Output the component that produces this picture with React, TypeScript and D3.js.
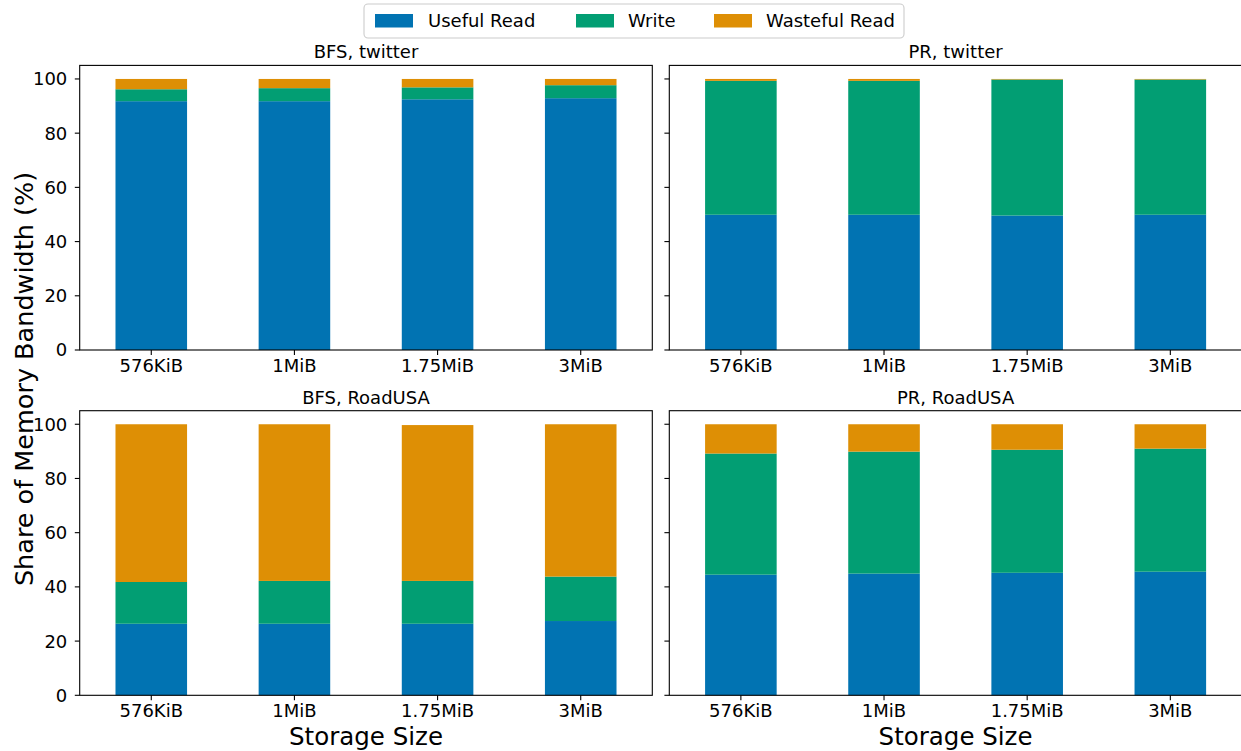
import React from "react";
import * as d3 from "d3";

// Storage configurations on the x axis
const sizes = ["576KiB", "1MiB", "1.75MiB", "3MiB"];
const seriesKeys = ["Useful Read", "Write", "Wasteful Read"];
const seriesColors = ["#0173b2", "#029e73", "#de8f05"];
const yTicks = [0, 20, 40, 60, 80, 100];

// Share of memory bandwidth (%) per workload, stacked bottom to top
const bfsTwitterUseful = [91.8, 91.8, 92.5, 92.9];
const bfsTwitterWrite = [4.4, 4.8, 4.4, 4.8];
const bfsTwitterWaste = [3.8, 3.4, 3.1, 2.3];

const prTwitterUseful = [49.9, 49.9, 49.6, 49.9];
const prTwitterWrite = [49.4, 49.4, 50.2, 49.9];
const prTwitterWaste = [0.7, 0.7, 0.2, 0.2];

const bfsRoadUseful = [26.4, 26.4, 26.4, 27.4];
const bfsRoadWrite = [15.4, 15.8, 15.8, 16.4];
const bfsRoadWaste = [58.2, 57.8, 57.5, 56.2];

const prRoadUseful = [44.5, 44.9, 45.2, 45.6];
const prRoadWrite = [44.7, 45.0, 45.4, 45.4];
const prRoadWaste = [10.8, 10.1, 9.4, 9.0];

const panels = [
  { title: "BFS, twitter", useful: bfsTwitterUseful, write: bfsTwitterWrite, waste: bfsTwitterWaste, col: 0, row: 0 },
  { title: "PR, twitter", useful: prTwitterUseful, write: prTwitterWrite, waste: prTwitterWaste, col: 1, row: 0 },
  { title: "BFS, RoadUSA", useful: bfsRoadUseful, write: bfsRoadWrite, waste: bfsRoadWaste, col: 0, row: 1 },
  { title: "PR, RoadUSA", useful: prRoadUseful, write: prRoadWrite, waste: prRoadWaste, col: 1, row: 1 },
];

const W = 1241;
const H = 751;
const FONT = "DejaVu Sans, sans-serif";
const colX = [79.7, 669.3];
const axW = 572.6;
const rowBottom = [350, 695.3];
const axH = 284.6;
const tickLen = 4.9;
const tickFont = 18;
const labelFont = 24.5;
const yLabelFont = 25.5;

function Panel({ p }: { p: (typeof panels)[number] }) {
  const x0 = colX[p.col];
  const y0 = rowBottom[p.row];
  const x = d3.scaleBand<string>().domain(sizes).range([x0, x0 + axW]).paddingInner(0.5).paddingOuter(0.25);
  const y = d3.scaleLinear().domain([0, 105]).range([y0, y0 - axH]);
  const rows = sizes.map((s, i) => ({
    size: s,
    "Useful Read": p.useful[i],
    Write: p.write[i],
    "Wasteful Read": p.waste[i],
  }));
  const stacked = d3.stack<any>().keys(seriesKeys)(rows);
  const showYLabels = p.col === 0;
  return (
    <g>
      {stacked.map((layer, li) => (
        <g key={layer.key} fill={seriesColors[li]}>
          {layer.map((d, i) => (
            <rect
              key={i}
              x={x(sizes[i])}
              width={x.bandwidth()}
              y={y(d[1])}
              height={y(d[0]) - y(d[1])}
            />
          ))}
        </g>
      ))}
      <rect x={x0} y={y0 - axH} width={axW} height={axH} fill="none" stroke="#000" strokeWidth={1.1} />
      {sizes.map((s) => {
        const cx = (x(s) as number) + x.bandwidth() / 2;
        return (
          <g key={s}>
            <line x1={cx} x2={cx} y1={y0} y2={y0 + tickLen} stroke="#000" strokeWidth={1.1} />
            <text x={cx} y={y0 + 22} textAnchor="middle" fontSize={tickFont} fontFamily={FONT} fill="#000">
              {s}
            </text>
          </g>
        );
      })}
      {yTicks.map((t) => (
        <g key={t}>
          <line x1={x0 - tickLen} x2={x0} y1={y(t)} y2={y(t)} stroke="#000" strokeWidth={1.1} />
          {showYLabels && (
            <text x={x0 - tickLen - 7.5} y={y(t)} dy="0.36em" textAnchor="end" fontSize={tickFont} fontFamily={FONT} fill="#000">
              {t}
            </text>
          )}
        </g>
      ))}
      <text x={x0 + axW / 2} y={y0 - axH - 7} textAnchor="middle" fontSize={tickFont} fontFamily={FONT} fill="#000">
        {p.title}
      </text>
      {p.row === 1 && (
        <text x={x0 + axW / 2} y={745} textAnchor="middle" fontSize={labelFont} fontFamily={FONT} fill="#000">
          Storage Size
        </text>
      )}
    </g>
  );
}

function Legend() {
  const entries = [
    { key: seriesKeys[0], patchX: 375, textX: 428 },
    { key: seriesKeys[1], patchX: 576, textX: 628 },
    { key: seriesKeys[2], patchX: 714, textX: 766 },
  ];
  return (
    <g>
      <rect x={364} y={4} width={540} height={34} rx={4} fill="#fff" stroke="#ccc" strokeWidth={1.1} />
      {entries.map((e, i) => (
        <g key={e.key}>
          <rect x={e.patchX} y={14} width={38} height={13.5} fill={seriesColors[i]} />
          <text x={e.textX} y={27} fontSize={tickFont} fontFamily={FONT} fill="#000">
            {e.key}
          </text>
        </g>
      ))}
    </g>
  );
}

export default function App() {
  return (
    <svg width={W} height={H} style={{ position: "absolute", left: 0, top: 0, background: "#fff" }}>
      <rect width={W} height={H} fill="#fff" />
      {panels.map((p) => (
        <Panel key={p.title} p={p} />
      ))}
      <text
        transform="translate(33,379) rotate(-90)"
        textAnchor="middle"
        fontSize={yLabelFont}
        fontFamily={FONT}
        fill="#000"
      >
        Share of Memory Bandwidth (%)
      </text>
      <Legend />
    </svg>
  );
}
